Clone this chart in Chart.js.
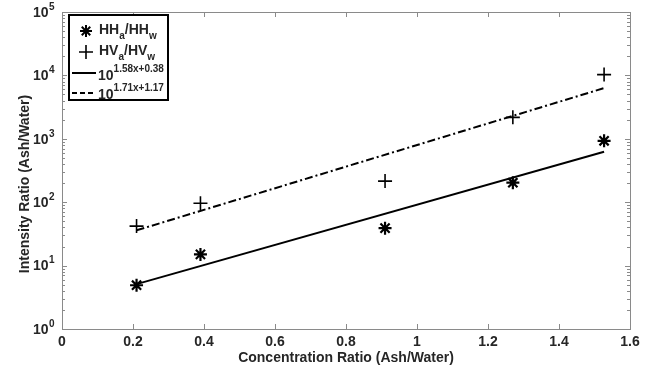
<!DOCTYPE html>
<html>
<head>
<meta charset="utf-8">
<script src="https://cdn.jsdelivr.net/npm/chart.js@4/dist/chart.umd.min.js"></script>
<style>
  html, body { margin: 0; padding: 0; background: #fff; }
  #wrap { width: 655px; height: 373px; }
</style>
</head>
<body>
<div id="wrap"><canvas id="chart"></canvas></div>
<script>
// concentration ratio (ash / water)
const ratioX = [0.21, 0.39, 0.91, 1.27, 1.527];
// intensity ratios
const hhRatio = [4.9, 15, 39, 203, 930];
const hvRatio = [42, 96, 215, 2180, 10300];
// fitted lines, end points
const fitX = [0.21, 1.527];
const fitHH = [5.1, 625];
const fitHV = [36, 6300];

const xTicks = [0, 0.2, 0.4, 0.6, 0.8, 1, 1.2, 1.4, 1.6];
const xTickLabels = ['0', '0.2', '0.4', '0.6', '0.8', '1', '1.2', '1.4', '1.6'];
const yExps = [0, 1, 2, 3, 4, 5];

const FONT = '"Liberation Sans", Arial, sans-serif';
const TXT = '#262626';

function pts(xs, ys) {
  return xs.map((x, i) => ({ x: x, y: ys[i] }));
}

function drawStar(ctx, x, y, r) {
  ctx.beginPath();
  for (let k = 0; k < 4; k++) {
    const a = k * Math.PI / 4;
    ctx.moveTo(x - r * Math.cos(a), y - r * Math.sin(a));
    ctx.lineTo(x + r * Math.cos(a), y + r * Math.sin(a));
  }
  ctx.stroke();
}

function drawPlus(ctx, x, y, r) {
  ctx.beginPath();
  ctx.moveTo(x - r, y); ctx.lineTo(x + r, y);
  ctx.moveTo(x, y - r); ctx.lineTo(x, y + r);
  ctx.stroke();
}

// text with sub/superscript parts: [text, shift]
function drawRich(ctx, x, y, parts) {
  let cx = x;
  parts.forEach(p => {
    ctx.font = (p[1] === 0 ? 'bold 14px ' : 'bold 10px ') + FONT;
    ctx.fillText(p[0], cx, y + p[1]);
    cx += ctx.measureText(p[0]).width;
  });
  return cx;
}

const axesPlugin = {
  id: 'matlabAxes',
  afterDraw(chart) {
    const ctx = chart.ctx;
    const a = chart.chartArea;
    const xs = chart.scales.x;
    const ys = chart.scales.y;
    ctx.save();

    // box
    ctx.strokeStyle = '#8a8a8a';
    ctx.lineWidth = 1;
    ctx.strokeRect(a.left + 0.5, a.top + 0.5, a.right - a.left, a.bottom - a.top);

    // x ticks
    ctx.beginPath();
    xTicks.forEach(v => {
      const px = Math.round(xs.getPixelForValue(v)) + 0.5;
      ctx.moveTo(px, a.bottom); ctx.lineTo(px, a.bottom - 5);
      ctx.moveTo(px, a.top); ctx.lineTo(px, a.top + 5);
    });
    // y ticks, major + minor
    yExps.forEach(e => {
      const py = Math.round(ys.getPixelForValue(Math.pow(10, e))) + 0.5;
      ctx.moveTo(a.left, py); ctx.lineTo(a.left + 5, py);
      ctx.moveTo(a.right, py); ctx.lineTo(a.right - 5, py);
      if (e < 5) {
        for (let m = 2; m <= 9; m++) {
          const pm = Math.round(ys.getPixelForValue(m * Math.pow(10, e))) + 0.5;
          ctx.moveTo(a.left, pm); ctx.lineTo(a.left + 3, pm);
          ctx.moveTo(a.right, pm); ctx.lineTo(a.right - 3, pm);
        }
      }
    });
    ctx.stroke();

    ctx.fillStyle = TXT;
    ctx.textBaseline = 'middle';

    // x tick labels
    ctx.font = 'bold 14px ' + FONT;
    ctx.textAlign = 'center';
    xTicks.forEach((v, i) => {
      ctx.fillText(xTickLabels[i], xs.getPixelForValue(v), a.bottom + 13);
    });

    // y tick labels 10^n
    ctx.textAlign = 'left';
    yExps.forEach(e => {
      const py = ys.getPixelForValue(Math.pow(10, e));
      ctx.font = 'bold 14px ' + FONT;
      ctx.fillText('10', 33, py + 1);
      ctx.font = 'bold 10px ' + FONT;
      ctx.fillText(String(e), 49, py - 5);
    });

    // axis titles
    ctx.font = 'bold 14px ' + FONT;
    ctx.textAlign = 'center';
    ctx.fillText('Concentration Ratio (Ash/Water)', (a.left + a.right) / 2, a.bottom + 29);
    ctx.save();
    ctx.translate(25, 184);
    ctx.rotate(-Math.PI / 2);
    ctx.fillText('Intensity Ratio (Ash/Water)', 0, 0);
    ctx.restore();

    // legend
    ctx.fillStyle = '#fff';
    ctx.fillRect(69, 15, 99, 85);
    ctx.strokeStyle = '#000';
    ctx.lineWidth = 2;
    ctx.strokeRect(69, 15, 99, 85);

    ctx.lineWidth = 2;
    drawStar(ctx, 86, 31, 6);
    ctx.lineWidth = 1.6;
    drawPlus(ctx, 86, 52, 7);
    ctx.lineWidth = 2;
    ctx.beginPath(); ctx.moveTo(72, 73); ctx.lineTo(96, 73); ctx.stroke();
    ctx.setLineDash([5, 3]);
    ctx.beginPath(); ctx.moveTo(72, 93); ctx.lineTo(96, 93); ctx.stroke();
    ctx.setLineDash([]);

    ctx.fillStyle = TXT;
    ctx.textAlign = 'left';
    drawRich(ctx, 99, 30, [['HH', 0], ['a', 6], ['/HH', 0], ['w', 6]]);
    drawRich(ctx, 99, 51, [['HV', 0], ['a', 6], ['/HV', 0], ['w', 6]]);
    drawRich(ctx, 98, 76, [['10', 0], ['1.58x+0.38', -7]]);
    drawRich(ctx, 98, 95, [['10', 0], ['1.71x+1.17', -7]]);

    ctx.restore();
  }
};

const canvas = document.getElementById('chart');
new Chart(canvas.getContext('2d'), {
  type: 'scatter',
  data: {
    datasets: [
      {
        label: 'HHa/HHw',
        data: pts(ratioX, hhRatio),
        pointStyle: 'star',
        pointRadius: 6.5,
        borderColor: '#000',
        backgroundColor: '#000',
        pointBorderWidth: 2.2,
        showLine: false
      },
      {
        label: 'HVa/HVw',
        data: pts(ratioX, hvRatio),
        pointStyle: 'cross',
        pointRadius: 7,
        borderColor: '#000',
        backgroundColor: '#000',
        pointBorderWidth: 1.6,
        showLine: false
      },
      {
        label: '10^(1.58x+0.38)',
        data: pts(fitX, fitHH),
        showLine: true,
        borderColor: '#000',
        borderWidth: 2,
        pointRadius: 0
      },
      {
        label: '10^(1.71x+1.17)',
        data: pts(fitX, fitHV),
        showLine: true,
        borderColor: '#000',
        borderWidth: 2,
        borderDash: [8, 3, 2, 3],
        pointRadius: 0
      }
    ]
  },
  options: {
    responsive: true,
    maintainAspectRatio: false,
    animation: false,
    layout: { padding: { top: 12, right: 25, left: 0, bottom: 0 } },
    plugins: {
      legend: { display: false },
      tooltip: { enabled: false }
    },
    scales: {
      x: {
        type: 'linear',
        min: 0,
        max: 1.6,
        grid: { display: false },
        border: { display: false },
        ticks: { display: false },
        afterFit: s => { s.height = 44; }
      },
      y: {
        type: 'logarithmic',
        min: 1,
        max: 100000,
        grid: { display: false },
        border: { display: false },
        ticks: { display: false },
        afterFit: s => { s.width = 62; }
      }
    }
  },
  plugins: [axesPlugin]
});
</script>
</body>
</html>
